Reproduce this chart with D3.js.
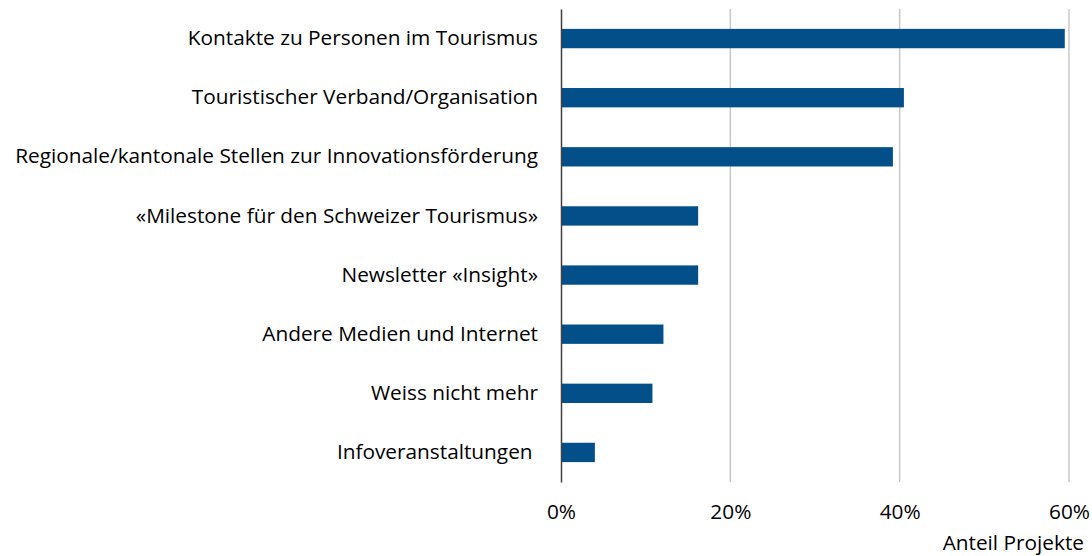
<!DOCTYPE html>
<html>
<head>
<meta charset="utf-8">
<script src="https://cdn.jsdelivr.net/npm/d3@7"></script>
<style>
  body { margin: 0; background: #fff; }
  svg text { font-family: "Open Sans", "Noto Sans", sans-serif; fill: #000; white-space: pre; }
</style>
</head>
<body>
<svg id="chart" width="1092" height="556"></svg>
<script>
// Chart data
var categories = [
    "Kontakte zu Personen im Tourismus",
    "Touristischer Verband/Organisation",
    "Regionale/kantonale Stellen zur Innovationsförderung",
    "«Milestone für den Schweizer Tourismus»",
    "Newsletter «Insight»",
    "Andere Medien und Internet",
    "Weiss nicht mehr",
    "Infoveranstaltungen "
];
var shares = [59.5, 40.5, 39.2, 16.2, 16.2, 12.1, 10.8, 4.0];
var xTicks = [0, 20, 40, 60];
var xTitle = "Anteil Projekte";

var margin = {top: 9, left: 561, right: 23, bottom: 74};
var width = 1092 - margin.left - margin.right,
    height = 556 - margin.top - margin.bottom;
var fontSize = "20.8px";

var svg = d3.select("#chart");
var g = svg.append("g")
    .attr("transform", "translate(" + margin.left + "," + margin.top + ")");

var x = d3.scaleLinear().domain([0, 60]).range([0, width]);
var y = d3.scaleBand()
    .domain(categories)
    .range([0, height])
    .paddingInner(0.673)
    .paddingOuter(0.3365);

// vertical gridlines
g.append("g")
    .selectAll("line")
    .data(xTicks.filter(function(d) { return d > 0; }))
    .enter()
    .append("line")
    .attr("x1", function(d) { return x(d); })
    .attr("x2", function(d) { return x(d); })
    .attr("y1", 0)
    .attr("y2", height)
    .style("stroke", "#c8c8c8")
    .style("stroke-width", 1.5);

// bars
g.append("g")
    .selectAll("rect")
    .data(categories)
    .enter()
    .append("rect")
    .attr("x", 0)
    .attr("y", function(d) { return y(d); })
    .attr("width", function(d, i) { return x(shares[i]); })
    .attr("height", y.bandwidth())
    .style("fill", "#024f89");

// category axis
var yAxis = g.append("g")
    .call(d3.axisLeft(y).tickSize(0).tickPadding(23));
yAxis.select(".domain")
    .style("stroke", "#404040")
    .style("stroke-width", 1.5);
yAxis.selectAll("text")
    .style("font-size", fontSize);

// value axis
var xAxis = g.append("g")
    .attr("transform", "translate(0," + height + ")")
    .call(d3.axisBottom(x).tickValues(xTicks).tickSize(0).tickPadding(22)
        .tickFormat(function(d) { return d + "%"; }));
xAxis.select(".domain").remove();
xAxis.selectAll("text")
    .style("font-size", fontSize);

// axis title
svg.append("text")
    .attr("x", 1084)
    .attr("y", 550)
    .attr("text-anchor", "end")
    .style("font-size", fontSize)
    .text(xTitle);
</script>
</body>
</html>
